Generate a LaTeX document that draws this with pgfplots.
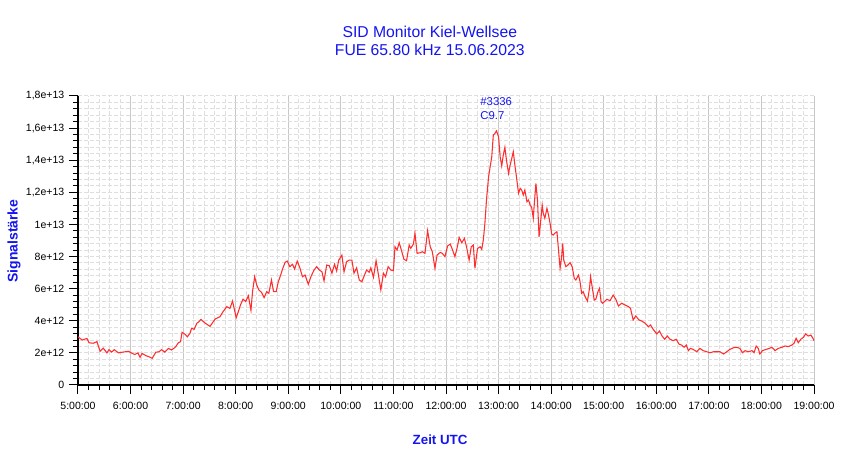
\documentclass[border=0pt]{standalone}
\usepackage{fontspec}
\setmainfont{Liberation Sans}
\usepackage{pgfplots}
\usepackage{pgfplotstable}
\pgfplotsset{compat=1.18}
\definecolor{sidred}{RGB}{255,45,45}
\definecolor{sidblue}{RGB}{20,20,240}
\definecolor{majgrid}{RGB}{200,200,200}
\definecolor{mingrid}{RGB}{222,222,222}
\pgfplotstableread{
t v
5.00 3.00
5.08 2.80
5.17 2.90
5.21 2.63
5.29 2.60
5.36 2.70
5.42 2.10
5.48 2.30
5.55 2.00
5.59 2.20
5.64 2.05
5.69 2.20
5.77 2.00
5.86 2.05
5.96 2.10
6.03 1.97
6.08 1.90
6.14 2.00
6.18 1.72
6.22 1.97
6.29 1.83
6.35 1.76
6.41 1.66
6.48 2.04
6.54 2.07
6.59 2.20
6.65 2.05
6.72 2.28
6.78 2.18
6.85 2.35
6.91 2.63
6.95 2.70
6.98 3.28
7.04 3.15
7.08 3.00
7.13 3.22
7.16 3.53
7.21 3.47
7.26 3.84
7.30 3.94
7.34 4.09
7.40 3.90
7.51 3.65
7.61 4.11
7.70 4.25
7.76 4.57
7.83 4.88
7.89 4.77
7.94 5.23
7.97 4.77
8.01 4.19
8.05 4.57
8.09 4.98
8.14 5.35
8.19 5.19
8.24 5.56
8.29 4.65
8.32 5.81
8.36 6.74
8.40 6.23
8.44 5.92
8.49 5.77
8.54 5.44
8.59 5.81
8.63 5.71
8.68 6.54
8.72 5.81
8.77 5.81
8.81 6.43
8.86 6.89
8.89 7.22
8.94 7.64
8.98 7.72
9.03 7.37
9.08 7.52
9.12 7.22
9.17 7.72
9.22 7.30
9.27 6.74
9.32 6.85
9.38 6.27
9.43 6.74
9.49 7.16
9.54 7.37
9.59 7.16
9.64 7.05
9.68 6.48
9.73 7.47
9.78 7.43
9.83 6.96
9.88 7.52
9.92 7.10
9.96 7.78
10.02 8.09
10.06 7.05
10.11 7.68
10.16 7.78
10.21 7.78
10.25 6.96
10.30 7.30
10.35 6.54
10.40 6.43
10.45 6.85
10.49 7.16
10.54 7.02
10.57 7.30
10.62 6.71
10.67 7.74
10.71 6.96
10.76 5.92
10.81 6.96
10.85 6.74
10.90 7.37
10.95 7.16
11.00 7.12
11.03 8.61
11.07 8.41
11.11 8.86
11.16 8.30
11.20 7.83
11.25 7.74
11.30 8.72
11.33 8.51
11.38 8.78
11.41 9.45
11.45 8.20
11.51 8.24
11.55 8.30
11.60 8.20
11.65 9.61
11.70 8.61
11.74 8.30
11.79 7.27
11.83 8.09
11.89 8.26
11.93 8.20
11.98 7.99
12.03 8.66
12.08 8.78
12.12 8.45
12.17 7.99
12.22 8.66
12.25 9.20
12.30 8.86
12.35 9.13
12.39 8.61
12.44 7.78
12.48 8.61
12.52 8.72
12.55 7.27
12.60 8.51
12.65 8.61
12.68 8.45
12.71 9.03
12.74 10.07
12.77 11.52
12.81 12.97
12.84 13.60
12.87 14.20
12.90 15.57
12.93 15.67
12.96 15.83
13.00 15.46
13.03 14.22
13.06 13.64
13.09 14.32
13.12 14.80
13.15 14.00
13.19 13.18
13.22 13.70
13.25 14.10
13.28 14.53
13.31 13.70
13.34 12.97
13.38 11.94
13.41 12.25
13.44 12.14
13.47 11.83
13.50 12.14
13.54 11.41
13.57 11.52
13.60 11.21
13.63 11.06
13.66 10.38
13.68 11.31
13.71 12.56
13.74 11.52
13.77 9.23
13.80 10.17
13.83 11.21
13.85 10.69
13.88 10.38
13.92 11.00
13.95 10.59
13.98 10.07
14.01 9.40
14.04 9.34
14.07 9.45
14.11 9.55
14.14 8.41
14.17 7.27
14.20 7.99
14.22 8.82
14.24 7.78
14.28 7.37
14.32 7.47
14.36 7.62
14.40 7.37
14.44 6.64
14.47 6.54
14.52 6.85
14.55 6.43
14.58 5.71
14.61 5.81
14.64 5.54
14.69 5.23
14.73 6.02
14.75 6.74
14.78 6.12
14.82 5.29
14.85 5.34
14.89 5.81
14.92 6.02
14.95 5.19
14.98 5.09
15.06 5.34
15.12 5.25
15.18 5.60
15.23 5.34
15.28 4.92
15.34 5.09
15.41 4.98
15.47 4.88
15.51 4.77
15.56 4.05
15.61 4.30
15.67 4.05
15.72 3.99
15.79 3.84
15.85 3.63
15.89 3.74
15.94 3.47
16.01 3.18
16.06 3.36
16.11 3.05
16.16 2.85
16.21 3.05
16.26 2.85
16.32 2.76
16.38 2.85
16.43 2.55
16.48 2.49
16.53 2.35
16.57 2.49
16.61 2.14
16.65 2.28
16.70 2.22
16.77 2.07
16.83 2.28
16.89 2.14
16.96 2.07
17.02 2.01
17.09 2.07
17.15 2.07
17.21 2.07
17.28 1.93
17.34 2.07
17.40 2.22
17.47 2.32
17.53 2.35
17.59 2.28
17.64 2.01
17.69 2.14
17.75 2.07
17.82 2.14
17.86 2.01
17.90 2.43
17.94 2.28
17.97 1.93
18.02 2.14
18.09 2.22
18.15 2.28
18.20 2.35
18.26 2.14
18.32 2.28
18.39 2.35
18.45 2.43
18.51 2.39
18.58 2.49
18.62 2.60
18.66 2.91
18.70 2.63
18.75 2.85
18.80 2.97
18.84 3.18
18.89 3.05
18.94 3.11
18.98 2.91
19.00 2.76
}\sid
\begin{document}
\begin{tikzpicture}[x=1pt,y=1pt]
\useasboundingbox (-58.5,-55.5) rectangle (579,288.75);
\begin{axis}[
  at={(0,0)}, anchor=south west,
  scale only axis, width=552pt, height=216.75pt,
  xmin=5, xmax=19, ymin=0, ymax=18,
  axis x line*=bottom, axis y line*=left,
  axis line style={-, black, line width=0.9pt},
  xtick={5,6,...,19},
  xticklabels={5:00:00,6:00:00,7:00:00,8:00:00,9:00:00,10:00:00,11:00:00,12:00:00,13:00:00,14:00:00,15:00:00,16:00:00,17:00:00,18:00:00,19:00:00},
  ytick={0,2,...,18},
  yticklabels={0,2e+12,4e+12,6e+12,8e+12,1e+13,{1,2e+13},{1,4e+13},{1,6e+13},{1,8e+13}},
  minor x tick num=4, minor y tick num=4,
  tick align=outside,
  major tick length=6.75pt, minor tick length=3.75pt,
  tick style={black, line width=0.75pt},
  xmajorgrids, xminorgrids, ymajorgrids, yminorgrids,
  major x grid style={majgrid, line width=0.75pt},
  minor x grid style={mingrid, dash pattern=on 3pt off 1.5pt, line width=0.75pt},
  major y grid style={mingrid, dash pattern=on 3pt off 1.5pt, line width=0.75pt},
  minor y grid style={mingrid, dash pattern=on 3pt off 1.5pt, line width=0.75pt},
  ticklabel style={font=\fontsize{7.9}{9}\selectfont, text=black},
  xticklabel style={yshift=-2.8pt},
  title={SID Monitor Kiel-Wellsee\\FUE 65.80 kHz 15.06.2023},
  title style={at={(axis description cs:0.478,1.164)}, anchor=center, align=center,
    font=\fontsize{11.8}{13.2}\selectfont, text=sidblue},
  ylabel={Signalstärke},
  ylabel style={at={(axis description cs:-0.087,0.498)}, anchor=center,
    font=\bfseries\fontsize{10.5}{12}\selectfont, text=sidblue},
  xlabel={Zeit UTC},
  xlabel style={at={(axis description cs:0.492,-0.19)}, anchor=center,
    font=\bfseries\fontsize{10}{12}\selectfont, text=sidblue},
]
\addplot[sidred, line width=0.8pt, mark=none] table[x=t, y=v] {\sid};
\node[anchor=west, text=sidblue, font=\fontsize{8.5}{10}\selectfont, inner sep=0pt] at (axis cs:12.65,17.68) {\#3336};
\node[anchor=west, text=sidblue, font=\fontsize{8.5}{10}\selectfont, inner sep=0pt] at (axis cs:12.65,16.75) {C9.7};
\end{axis}
\end{tikzpicture}
\end{document}
